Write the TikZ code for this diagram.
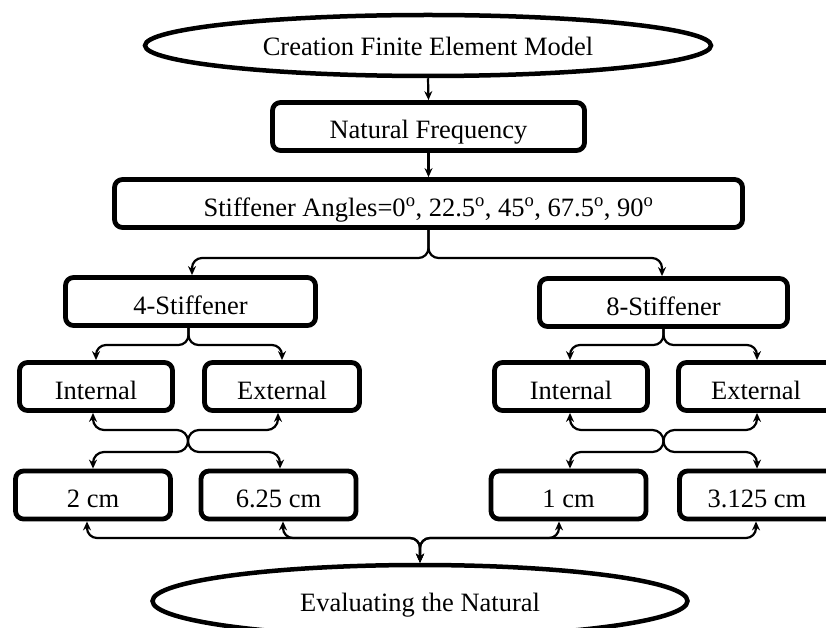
\documentclass[tikz,border=0pt]{standalone}
\usepackage{fontspec}
\setmainfont{Liberation Serif}
\usetikzlibrary{shapes.geometric,arrows.meta}
\begin{document}
\begin{tikzpicture}[x=1pt,y=-1pt,
  txt/.style={font=\fontsize{26.5}{30}\selectfont},
  box/.style={txt, draw, line width=4.8pt, rounded corners=8pt, inner sep=0pt,
    minimum height=48pt, text height=25pt, text depth=0pt},
  oval/.style={txt, draw, ellipse, line width=4.5pt, inner sep=0pt, text depth=0pt},
  conn/.style={line width=2.2pt, rounded corners=10pt},
  xconn/.style={conn, rounded corners=11pt},
  tip/.style={-{Stealth[length=9pt,width=8pt]}},
  tips/.style={{Stealth[length=9pt,width=8pt]}-{Stealth[length=9pt,width=8pt]}}]
\clip (0,0) rectangle (826,628);
\fill[white] (0,0) rectangle (826,628);

\node[oval, minimum width=566pt, minimum height=61pt, text height=20.5pt] (top) at (428,45.5) {Creation Finite Element Model};
\node[box, minimum width=312pt] (nf) at (428.5,126.5) {Natural Frequency};
\node[box, minimum width=628pt] (sa) at (428.5,203.5) {Stiffener Angles=0\textsuperscript{o}, 22.5\textsuperscript{o}, 45\textsuperscript{o}, 67.5\textsuperscript{o}, 90\textsuperscript{o}};

\node[box, minimum width=250pt] (s4) at (190.5,301.5) {4-Stiffener};
\node[box, minimum width=248pt] (s8) at (663.5,302.5) {8-Stiffener};

\node[box, minimum width=153pt] (inL) at (96,386.5) {Internal};
\node[box, minimum width=155pt] (exL) at (282,386.5) {External};
\node[box, minimum width=153pt] (inR) at (571,386.5) {Internal};
\node[box, minimum width=155pt] (exR) at (756,386.5) {External};

\node[box, minimum width=155pt] (c2) at (93,495) {2 cm};
\node[box, minimum width=155pt] (c6) at (278.5,495) {6.25 cm};
\node[box, minimum width=155pt] (c1) at (568.5,495) {1 cm};
\node[box, minimum width=155pt] (c3) at (757,495) {3.125 cm};

\node[oval, minimum width=535pt, minimum height=72pt, text height=20.5pt] (bot) at (420,601) {Evaluating the Natural};

% top chain
\draw[conn, tip] (top.south) -- (nf.north);
\draw[conn, tip] (nf.south) -- (sa.north);

% split from stiffener angles
\draw[conn, tip] (sa.south) -- (sa.south |- 0,258) -| ([xshift=1.5pt]s4.north);
\draw[conn, tip] (sa.south) -- (sa.south |- 0,258) -| ([xshift=-1.5pt]s8.north);

% split from 4-stiffener / 8-stiffener
\draw[conn, tip] ([xshift=-2pt]s4.south) -- ([xshift=-2pt]s4.south |- 0,345) -| (inL.north);
\draw[conn, tip] ([xshift=-2pt]s4.south) -- ([xshift=-2pt]s4.south |- 0,345) -| (exL.north);
\draw[conn, tip] (s8.south) -- (s8.south |- 0,345) -| ([xshift=-1pt]inR.north);
\draw[conn, tip] (s8.south) -- (s8.south |- 0,345) -| ([xshift=1pt]exR.north);

% crossing connectors, left
\draw[xconn, tips] ([xshift=-3pt]inL.south) -- ([xshift=-3pt]inL.south |- 0,430) -- (188,430) -- (188,452) -- (c2.north |- 0,452) -- (c2.north);
\draw[xconn, tips] ([xshift=-4pt]exL.south) -- ([xshift=-4pt]exL.south |- 0,430) -- (188,430) -- (188,452) -- ([xshift=1.5pt]c6.north |- 0,452) -- ([xshift=1.5pt]c6.north);
% crossing connectors, right
\draw[xconn, tips] ([xshift=-1pt]inR.south) -- ([xshift=-1pt]inR.south |- 0,430) -- (663.5,430) -- (663.5,452) -- ([xshift=1.5pt]c1.north |- 0,452) -- ([xshift=1.5pt]c1.north);
\draw[xconn, tips] ([xshift=1pt]exR.south) -- ([xshift=1pt]exR.south |- 0,430) -- (663.5,430) -- (663.5,452) -- (c3.north |- 0,452) -- (c3.north);

% merge into bottom ellipse
\draw[conn, tips] ([xshift=-6pt]c2.south) -- ([xshift=-6pt]c2.south |- 0,538) -| (bot.north);
\draw[conn, tips] ([xshift=4.5pt]c6.south) -- ([xshift=4.5pt]c6.south |- 0,538) -| (bot.north);
\draw[conn, tips] ([xshift=-9.5pt]c1.south) -- ([xshift=-9.5pt]c1.south |- 0,538) -| (bot.north);
\draw[conn, tips] ([xshift=-1pt]c3.south) -- ([xshift=-1pt]c3.south |- 0,538) -| (bot.north);
\end{tikzpicture}
\end{document}
